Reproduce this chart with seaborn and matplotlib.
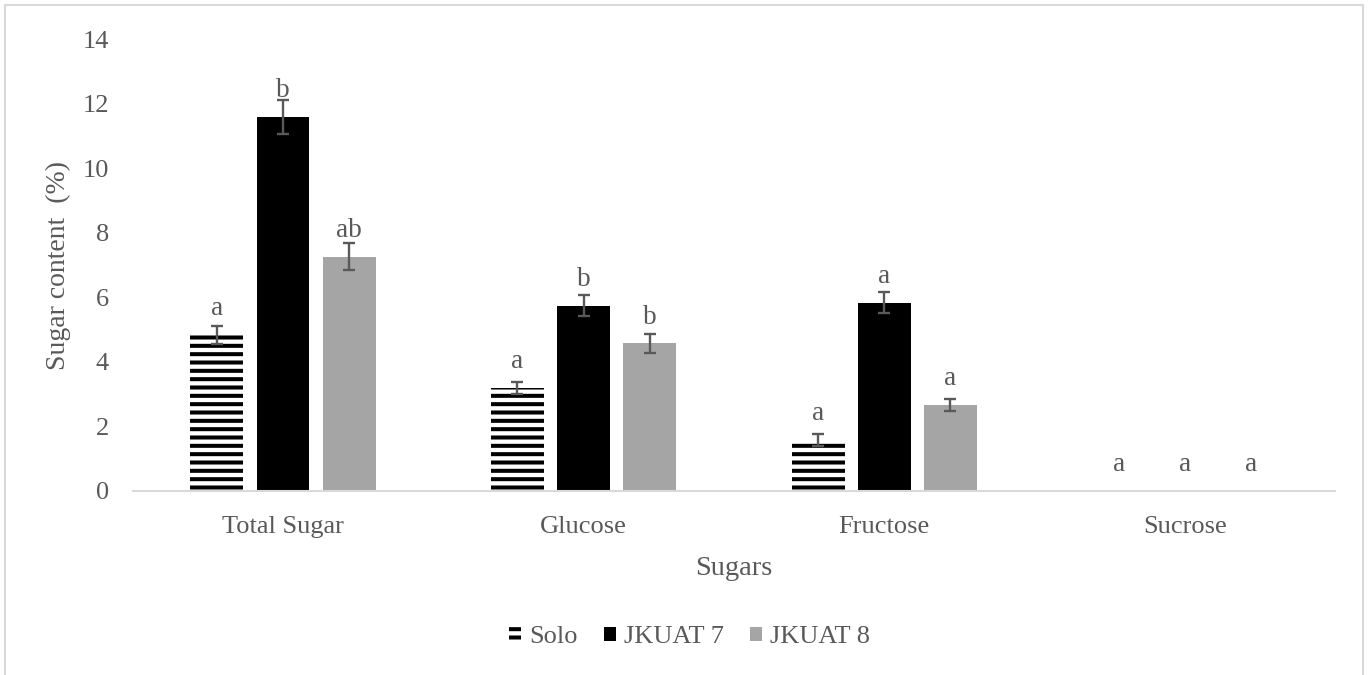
import numpy as np
import pandas as pd
import matplotlib
matplotlib.use("Agg")
import matplotlib.pyplot as plt
from matplotlib.patches import Patch, Rectangle
import seaborn as sns

# Sugar content (%) per cultivar, with standard errors and significance letters
sugars = ["Total Sugar", "Glucose", "Fructose", "Sucrose"]
cultivars = ["Solo", "JKUAT 7", "JKUAT 8"]

solo = [4.83, 3.18, 1.58, 0.0]
jkuat7 = [11.59, 5.74, 5.83, 0.0]
jkuat8 = [7.25, 4.57, 2.66, 0.0]

solo_err = [0.27, 0.19, 0.20, 0.0]
jkuat7_err = [0.52, 0.33, 0.32, 0.0]
jkuat8_err = [0.42, 0.29, 0.18, 0.0]

solo_letters = ["a", "a", "a", "a"]
jkuat7_letters = ["b", "b", "a", "a"]
jkuat8_letters = ["ab", "b", "a", "a"]

values = [solo, jkuat7, jkuat8]
errors = [solo_err, jkuat7_err, jkuat8_err]
letters = [solo_letters, jkuat7_letters, jkuat8_letters]

df = pd.DataFrame({
    "Sugars": sugars * len(cultivars),
    "Cultivar": [c for c in cultivars for _ in sugars],
    "Content": [v for series in values for v in series],
})

sns.set_theme(style="white")
plt.rcParams["font.family"] = ["Liberation Serif", "DejaVu Serif"]
plt.rcParams["hatch.linewidth"] = 2.9
plt.rcParams["hatch.color"] = "black"

text_color = "#595959"
palette = {"Solo": "white", "JKUAT 7": "black", "JKUAT 8": "#a5a5a5"}

fig = plt.figure(figsize=(13.68, 6.75), dpi=100)
ax = fig.add_axes([0.097, 0.2726, 0.879, 0.6696])

sns.barplot(data=df, x="Sugars", y="Content", hue="Cultivar",
            order=sugars, hue_order=cultivars, palette=palette,
            width=0.66, gap=0.2, errorbar=None, legend=False,
            linewidth=0, ax=ax)

bar_groups = list(ax.containers)
for i, container in enumerate(bar_groups):
    for j, bar in enumerate(container.patches):
        if cultivars[i] == "Solo":
            bar.set_hatch("--")
            bar.set_edgecolor("black")
            bar.set_linewidth(0)
        cx = bar.get_x() + bar.get_width() / 2
        h = bar.get_height()
        err = errors[i][j]
        if err > 0:
            ax.errorbar(cx, h, yerr=err, fmt="none", ecolor=text_color,
                        elinewidth=1.7, capsize=4.5, capthick=1.7, zorder=5)
        ax.annotate(letters[i][j], (cx, h), xytext=(0, 19),
                    textcoords="offset points", ha="center", va="center",
                    fontsize=19.5, color=text_color, zorder=6)

ax.set_xlim(-0.5, 3.5)
ax.set_ylim(0, 14)
ax.set_yticks(np.arange(0, 15, 2))
ax.tick_params(axis="both", length=0, labelsize=19, labelcolor=text_color)
ax.tick_params(axis="x", pad=18)
ax.tick_params(axis="y", pad=17)
for side in ["top", "right", "left"]:
    ax.spines[side].set_visible(False)
ax.spines["bottom"].set_color("#d9d9d9")
ax.spines["bottom"].set_linewidth(1.5)
ax.grid(False)

ax.set_xlabel("Sugars", fontsize=20.5, color=text_color, labelpad=13)
ax.set_ylabel("Sugar content  (%)", fontsize=20, color=text_color, labelpad=8)

handles = [
    Patch(facecolor="white", edgecolor="black", hatch="--", linewidth=0, label="Solo"),
    Patch(facecolor="black", edgecolor="none", label="JKUAT 7"),
    Patch(facecolor="#a5a5a5", edgecolor="none", label="JKUAT 8"),
]
fig.legend(handles=handles, loc="center", bbox_to_anchor=(0.504, 0.056),
           ncol=3, frameon=False, fontsize=19, labelcolor=text_color,
           handlelength=0.45, handleheight=0.45, handletextpad=0.3,
           columnspacing=1.0)

# Light chart-area border
fig.add_artist(Rectangle((0.004, -0.01), 0.992, 1.003, transform=fig.transFigure,
                         fill=False, edgecolor="#d9d9d9", linewidth=1.5))

fig.savefig("out.png", dpi=100)
